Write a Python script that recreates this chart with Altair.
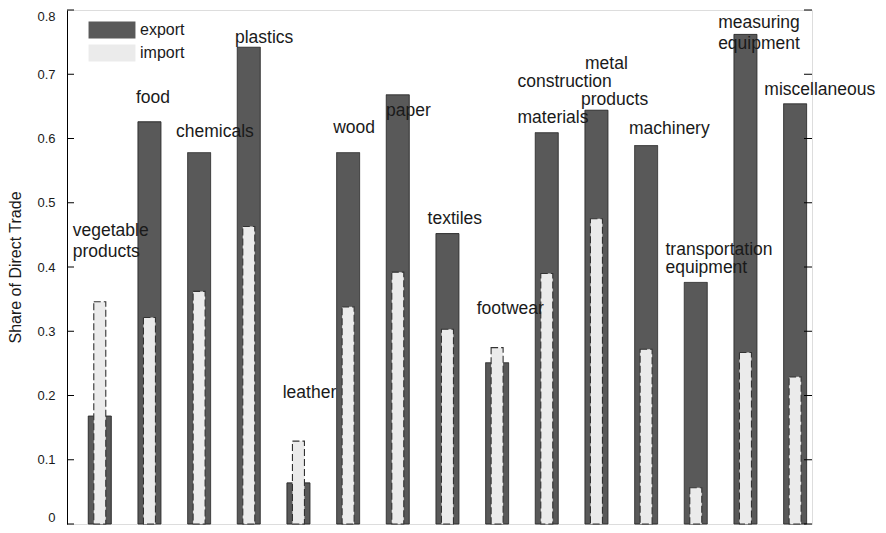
import altair as alt
import pandas as pd

categories = ["vegetable products", "food", "chemicals", "plastics", "leather", "wood",
              "paper", "textiles", "footwear", "construction materials", "metal products",
              "machinery", "transportation equipment", "measuring equipment", "miscellaneous"]
export_share = [0.168, 0.626, 0.578, 0.742, 0.064, 0.578, 0.668, 0.452, 0.251, 0.609,
                0.644, 0.589, 0.376, 0.762, 0.654]
import_share = [0.346, 0.3215, 0.362, 0.463, 0.129, 0.338, 0.392, 0.303, 0.2745, 0.390,
                0.475, 0.272, 0.0565, 0.267, 0.229]

# category labels as drawn (one entry per text line), anchored in data coordinates
label_lines = ["vegetable", "products", "food", "chemicals", "plastics", "leather", "wood",
               "paper", "textiles", "footwear", "construction", "materials", "metal",
               "products", "machinery", "transportation", "equipment", "measuring",
               "equipment", "miscellaneous"]
label_x = [0.455, 0.455, 1.729, 2.535, 3.722, 4.683, 5.70, 6.762, 7.60, 8.59, 9.41, 9.41,
           10.77, 10.69, 11.655, 12.39, 12.39, 13.45, 13.45, 14.38]
label_y = [0.4556, 0.423, 0.663, 0.6105, 0.7565, 0.2035, 0.617, 0.643, 0.4753, 0.334,
           0.6886, 0.6318, 0.7161, 0.6602, 0.6151, 0.4272, 0.3984, 0.7793, 0.7467, 0.6757]

y_ticks = [0, 0.1, 0.2, 0.3, 0.4, 0.5, 0.6, 0.7, 0.8]
series_names = ["export", "import"]

idx = list(range(1, len(categories) + 1))
bars = pd.DataFrame({
    "x": idx + idx,
    "y": export_share + import_share,
    "series": ["export"] * len(idx) + ["import"] * len(idx),
    "category": categories + categories,
})
labels = pd.DataFrame({"x": label_x, "y": label_y, "text": label_lines})
ticks = pd.DataFrame({"y": y_ticks})

W, H = 745, 514
FONT = "Liberation Sans"

xscale = alt.Scale(domain=[0.34, 15.34], nice=False, zero=False, padding=0)
yscale = alt.Scale(domain=[0, 0.8], nice=False, padding=0)

legend = alt.Legend(
    title=None, orient="none", legendX=36, legendY=11,
    symbolType="M-2.76,-1H2.76V1H-2.76Z", symbolSize=289,
    symbolStrokeColor="#333333", symbolStrokeWidth=1,
    labelFontSize=16, labelFont=FONT, labelColor="#1a1a1a", labelOffset=19,
    rowPadding=1,
)
color = alt.Color("series:N", scale=alt.Scale(domain=series_names, range=["#595959", "#ebebeb"]),
                  legend=legend)
dash = alt.StrokeDash("series:N", scale=alt.Scale(domain=series_names, range=[[1, 0], [7, 3]]),
                      legend=legend)

yenc = alt.Y("y:Q", scale=yscale,
             axis=alt.Axis(values=y_ticks, format="~g", ticks=False, grid=False,
                           labelPadding=12, labelFontSize=13, labelFont=FONT, labelColor="#1a1a1a",
                           labelFlush=True, labelFlushOffset=0,
                           domainColor="black", title="Share of Direct Trade",
                           titleFont=FONT, titleFontSize=16, titleFontWeight="normal",
                           titleColor="#1a1a1a", titlePadding=13))
xenc = alt.X("x:Q", scale=xscale, axis=None)

export_layer = alt.Chart(bars).transform_filter(alt.datum.series == "export").mark_bar(
    size=23, stroke="#2b2b2b", strokeWidth=1).encode(x=xenc, y=yenc, color=color, strokeDash=dash)
import_layer = alt.Chart(bars).transform_filter(alt.datum.series == "import").mark_bar(
    size=12, stroke="#333333", strokeWidth=1.1).encode(x=xenc, y=yenc, color=color, strokeDash=dash)

text_layer = alt.Chart(labels).mark_text(
    align="left", baseline="middle", fontSize=17.5, font=FONT, color="#1a1a1a").encode(
    x=xenc, y=alt.Y("y:Q", scale=yscale), text="text:N")

left_ticks = alt.Chart(ticks).mark_rule(color="black", strokeWidth=1).encode(
    y=alt.Y("y:Q", scale=yscale), x=alt.value(0), x2=alt.value(7))
right_ticks = alt.Chart(ticks).mark_rule(color="black", strokeWidth=1).encode(
    y=alt.Y("y:Q", scale=yscale), x=alt.value(W - 8), x2=alt.value(W))

chart = alt.layer(export_layer, import_layer, text_layer, left_ticks, right_ticks).properties(
    width=W, height=H,
    autosize=alt.AutoSizeParams(type="none"),
    padding={"left": 59, "top": 2, "right": 66, "bottom": 1},
).configure_view(stroke="black", strokeWidth=1).configure(font=FONT, background="white")

chart.save("out.html", embed_options={"renderer": "svg", "actions": False})
